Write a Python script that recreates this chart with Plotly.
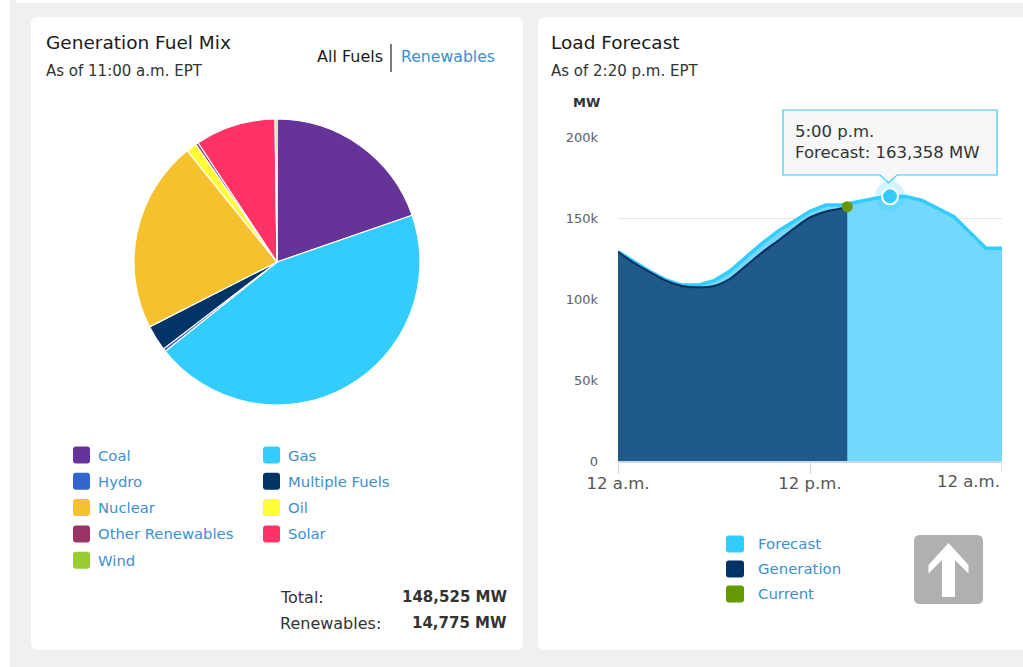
import plotly.graph_objects as go

# --- data -------------------------------------------------------------
fuel_labels = ["Coal", "Gas", "Hydro", "Multiple Fuels", "Nuclear", "Oil",
               "Other Renewables", "Solar", "Wind"]
fuel_mw = [29260, 66200, 500, 4300, 32210, 1780, 450, 13500, 325]
total_mw = "148,525 MW"
renewables_mw = "14,775 MW"

hours = list(range(25))
forecast_mw = [129200, 122800, 117000, 111800, 108600, 108600, 111300, 117300,
               126000, 134300, 141900, 148300, 154200, 158000, 158000, 160000,
               162000, 163358, 163300, 160800, 155800, 150800, 141000, 131300,
               131300]
gen_hours = [0, 1, 2, 3, 4, 5, 6, 7, 8, 9, 10, 11, 12, 13, 14, 14.33]
gen_mw = [129200, 122300, 116600, 111300, 108000, 107200, 108000, 112500,
          120500, 128700, 136000, 143500, 150300, 154000, 156000, 157000]
current_hour = 14.33
current_mw = 157000
peak_hour = 17
peak_mw = 163358

x_tickvals = [0, 12, 24]
x_ticktext = ["12 a.m.", "12 p.m.", "12 a.m."]
y_tickvals = [0, 50000, 100000, 150000, 200000]

fuel_colors = ["#663399", "#33ccff", "#3366cc", "#003366", "#f6c12f",
               "#ffff33", "#993366", "#ff3366", "#99cc33"]
load_labels = ["Forecast", "Generation", "Current"]
load_colors = ["#33ccff", "#003366", "#669900"]

W, H = 1023, 667
FONT = "DejaVu Sans"
LINK = "#3d8fcd"


def px(x):
    return x / W


def py(y):
    return 1 - y / H


def rounded(x0, y0, x1, y1, r):
    # rounded rectangle path in paper coords, from pixel corners
    pts = (f"M {px(x0 + r)},{py(y0)} L {px(x1 - r)},{py(y0)} "
           f"Q {px(x1)},{py(y0)} {px(x1)},{py(y0 + r)} "
           f"L {px(x1)},{py(y1 - r)} Q {px(x1)},{py(y1)} {px(x1 - r)},{py(y1)} "
           f"L {px(x0 + r)},{py(y1)} Q {px(x0)},{py(y1)} {px(x0)},{py(y1 - r)} "
           f"L {px(x0)},{py(y0 + r)} Q {px(x0)},{py(y0)} {px(x0 + r)},{py(y0)} Z")
    return pts


def poly(points):
    return "M " + " L ".join(f"{px(a)},{py(b)}" for a, b in points) + " Z"


fig = go.Figure()

fig.add_trace(go.Pie(
    labels=fuel_labels, values=fuel_mw, sort=False, direction="clockwise",
    rotation=0, marker=dict(colors=fuel_colors, line=dict(color="white", width=1.2)),
    textinfo="none", showlegend=False, hoverinfo="label+value",
    domain=dict(x=[px(134), px(420)], y=[py(405), py(119)]),
))

fig.add_trace(go.Scatter(
    x=hours, y=forecast_mw, mode="lines", fill="tozeroy",
    fillcolor="#72d8fd", line=dict(color="#33ccff", width=3.5),
    showlegend=False, hoverinfo="skip",
))
fig.add_trace(go.Scatter(
    x=gen_hours, y=gen_mw, mode="lines", fill="tozeroy",
    fillcolor="#1f5a8a", line=dict(color="#0a2f5c", width=2, shape="spline"),
    showlegend=False, hoverinfo="skip",
))
fig.add_trace(go.Scatter(
    x=[current_hour], y=[current_mw], mode="markers",
    marker=dict(color="#669900", size=11), showlegend=False, hoverinfo="skip",
))
fig.add_trace(go.Scatter(
    x=[peak_hour], y=[peak_mw], mode="markers",
    marker=dict(color="rgba(51,204,255,0.22)", size=30), showlegend=False,
    hoverinfo="skip",
))
fig.add_trace(go.Scatter(
    x=[peak_hour], y=[peak_mw], mode="markers",
    marker=dict(color="#33ccff", size=16, line=dict(color="white", width=2)),
    showlegend=False, hoverinfo="skip",
))

shapes = [
    dict(type="rect", x0=px(10), x1=px(1040), y0=py(700), y1=py(-20),
         fillcolor="#f0f0f0", line_width=0, layer="below"),
    dict(type="rect", x0=px(16), x1=px(1040), y0=py(3), y1=py(-20),
         fillcolor="white", line_width=0, layer="below"),
    dict(type="path", path=rounded(31, 17, 523, 650, 7),
         fillcolor="white", line_width=0, layer="below"),
    dict(type="path", path=rounded(538, 17, 1060, 650, 7),
         fillcolor="white", line_width=0, layer="below"),
    # divider between All Fuels / Renewables
    dict(type="line", x0=px(391), x1=px(391), y0=py(44), y1=py(72),
         line=dict(color="#222", width=1.2)),
    # tooltip box
    dict(type="path",
         path=poly([(783, 110), (997, 110), (997, 175), (897, 175),
                    (888.5, 183), (880, 175), (783, 175)]),
         fillcolor="rgba(247,247,247,0.95)", line=dict(color="#33ccff", width=1.2)),
    # up-arrow button
    dict(type="path", path=rounded(914, 535, 983, 604, 6),
         fillcolor="#b0b0b0", line_width=0),
    dict(type="path",
         path=poly([(948.5, 543), (968.5, 565), (968.5, 573.5), (955, 560),
                    (955, 597), (942, 597), (942, 560), (928.5, 573.5),
                    (928.5, 565)]),
         fillcolor="white", line_width=0),
]

annotations = [
    dict(x=px(44), y=py(43), text="Generation Fuel Mix",
         font=dict(size=18.5, color="#1a1a1a")),
    dict(x=px(44), y=py(71), text="As of 11:00 a.m. EPT",
         font=dict(size=15, color="#333")),
    dict(x=px(385), y=py(57), text="All Fuels", xanchor="right",
         font=dict(size=16, color="#1a1a1a")),
    dict(x=px(399), y=py(57), text="Renewables",
         font=dict(size=15.7, color=LINK)),
    dict(x=px(549), y=py(43), text="Load Forecast",
         font=dict(size=18.5, color="#1a1a1a")),
    dict(x=px(549), y=py(71), text="As of 2:20 p.m. EPT",
         font=dict(size=15, color="#333")),
    dict(x=px(571), y=py(102), text="<b>MW</b>",
         font=dict(size=13, color="#333")),
    dict(x=px(278), y=py(597), text="Total:", font=dict(size=16, color="#333")),
    dict(x=px(509), y=py(597), text="<b>" + total_mw + "</b>", xanchor="right",
         font=dict(size=15, color="#333")),
    dict(x=px(278), y=py(623), text="Renewables:", font=dict(size=16, color="#333")),
    dict(x=px(509), y=py(623), text="<b>" + renewables_mw + "</b>", xanchor="right",
         font=dict(size=15, color="#333")),
    dict(x=px(793), y=py(142), text="5:00 p.m.<br>Forecast: " + f"{peak_mw:,}" + " MW",
         align="left", font=dict(size=16.5, color="#333")),
]

# pie legend: two columns, filled row by row
for i, (lab, col) in enumerate(zip(fuel_labels, fuel_colors)):
    cx = 73 if i % 2 == 0 else 263
    cy = 455 + 26.3 * (i // 2)
    shapes.append(dict(type="path", path=rounded(cx, cy - 8.5, cx + 17, cy + 8.5, 3),
                       fillcolor=col, line_width=0))
    annotations.append(dict(x=px(cx + 23), y=py(cy), text=lab,
                            font=dict(size=14.8, color=LINK)))

# load legend
for i, (lab, col) in enumerate(zip(load_labels, load_colors)):
    cy = 544 + 25 * i
    shapes.append(dict(type="path", path=rounded(726, cy - 8.5, 744, cy + 8.5, 3),
                       fillcolor=col, line_width=0))
    annotations.append(dict(x=px(756), y=py(cy), text=lab,
                            font=dict(size=14.9, color=LINK)))

for a in annotations:
    a.update(xref="paper", yref="paper", showarrow=False,
             xanchor=a.get("xanchor", "left"), yanchor="middle")
for s in shapes:
    s.update(xref="paper", yref="paper")

# last x tick label sits inside the plot end, right-aligned to its tick
annotations.append(dict(x=x_tickvals[-1], y=0, xref="x", yref="y", text=x_ticktext[-1],
                        showarrow=False, xanchor="right", yanchor="middle", yshift=-20,
                        xshift=0, font=dict(size=16.5, color="#555")))

fig.update_layout(
    width=W, height=H, margin=dict(l=0, r=0, t=0, b=0, pad=0),
    paper_bgcolor="white", plot_bgcolor="rgba(0,0,0,0)",
    font=dict(family=FONT, color="#333"),
    shapes=shapes, annotations=annotations, showlegend=False,
    xaxis=dict(domain=[px(618), px(1002)], range=[0, 24],
               tickvals=x_tickvals[:-1], ticktext=x_ticktext[:-1],
               showgrid=False, zeroline=False, automargin=False,
               showline=True, linecolor="#ccd6eb", linewidth=1.5,
               ticks="outside", ticklen=11, tickcolor="#ccd6eb",
               ticklabelstandoff=-5,
               tickfont=dict(size=16.5, color="#555")),
    yaxis=dict(domain=[py(461), py(137)], range=[0, 200000], automargin=False,
               tickvals=y_tickvals, tickformat="~s", showgrid=True,
               gridcolor="#e6e6e6", zeroline=False, ticklabelstandoff=19,
               tickfont=dict(size=13, color="#606060")),
)
# tick mark at the day end (label drawn above as an annotation)
fig.add_shape(type="line", xref="x", yref="paper", x0=24, x1=24,
              y0=py(472), y1=py(461), line=dict(color="#ccd6eb", width=1.5))

fig.write_html("out.html", config={"displayModeBar": False},
               post_script="document.body.style.margin='0';document.body.style.overflow='hidden';")
